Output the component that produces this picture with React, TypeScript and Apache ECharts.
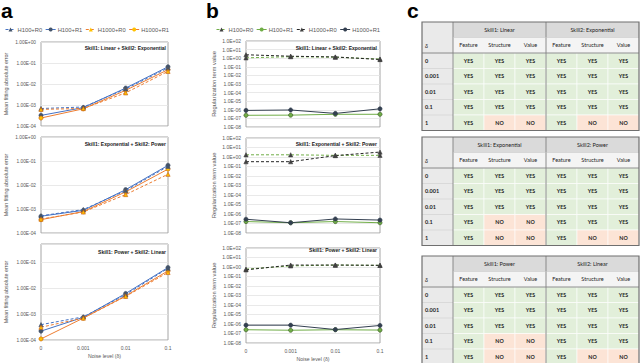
import React, { useEffect, useRef } from 'react';
import * as echarts from 'echarts';

// ---------- data ----------
const noiseLevels = ['0', '0.001', '0.01', '0.1'];
const seriesNames = ['H100+R0', 'H100+R1', 'H1000+R0', 'H1000+R1'];
const chartTitles = [
  'Skill1: Linear + Skill2: Exponential',
  'Skill1: Exponential + Skill2: Power',
  'Skill1: Power + Skill2: Linear',
];

// panel a: mean fitting absolute error (order: H100+R0, H100+R1, H1000+R0, H1000+R1)
const errLinearExp = [
  [6.8e-4, 8.0e-4, 5.8e-3, 5.8e-2],
  [3.2e-4, 7.5e-4, 6.4e-3, 6.6e-2],
  [6.2e-4, 6.8e-4, 3.8e-3, 4.0e-2],
  [2.4e-4, 6.6e-4, 5.0e-3, 4.8e-2],
];
const errExpPower = [
  [5.2e-4, 9.5e-4, 5.8e-3, 6.0e-2],
  [5.0e-4, 8.8e-4, 6.4e-3, 6.6e-2],
  [3.8e-4, 7.5e-4, 4.0e-3, 2.8e-2],
  [3.6e-4, 7.8e-4, 5.2e-3, 4.6e-2],
];
const errPowerLinear = [
  [3.9e-4, 7.8e-4, 5.6e-3, 5.8e-2],
  [2.2e-4, 7.5e-4, 6.2e-3, 6.2e-2],
  [3.1e-4, 7.0e-4, 4.8e-3, 4.0e-2],
  [1.1e-4, 7.0e-4, 5.0e-3, 4.6e-2],
];

// panel b: regularization term value
const regLinearExp = [
  [1.1, 1.5, 1.3, 0.8],
  [2.3e-7, 2.4e-7, 3.0e-7, 3.0e-7],
  [2.5, 1.7, 1.4, 0.7],
  [8.5e-7, 9.5e-7, 3.8e-7, 1.3e-6],
];
const regExpPower = [
  [1.7, 1.7, 1.5, 1.5],
  [1.6e-7, 1.2e-7, 1.6e-7, 1.2e-7],
  [0.32, 0.32, 1.4, 3.3],
  [2.8e-7, 1.2e-7, 3.0e-7, 2.3e-7],
];
const regPowerLinear = [
  [0.6, 1.3, 1.6, 1.5],
  [2.5e-7, 2.2e-7, 2.5e-7, 2.3e-7],
  [0.5, 1.6, 1.6, 1.5],
  [7.5e-7, 7.5e-7, 2.6e-7, 7.0e-7],
];

// panel c: tables
const deltaLevels = ['0', '0.001', '0.01', '0.1', '1'];
const subColumns = ['Feature', 'Structure', 'Value'];
const tableSkills = [
  ['Skill1: Linear', 'Skill2: Exponential'],
  ['Skill1: Exponential', 'Skill2: Power'],
  ['Skill1: Power', 'Skill2: Linear'],
];
const tableLinearExp = [
  ['YES', 'YES', 'YES', 'YES', 'YES', 'YES'],
  ['YES', 'YES', 'YES', 'YES', 'YES', 'YES'],
  ['YES', 'YES', 'YES', 'YES', 'YES', 'YES'],
  ['YES', 'YES', 'YES', 'YES', 'YES', 'YES'],
  ['YES', 'NO', 'NO', 'YES', 'NO', 'NO'],
];
const tableExpPower = [
  ['YES', 'YES', 'YES', 'YES', 'YES', 'YES'],
  ['YES', 'YES', 'YES', 'YES', 'YES', 'YES'],
  ['YES', 'YES', 'YES', 'YES', 'YES', 'YES'],
  ['YES', 'NO', 'NO', 'YES', 'YES', 'YES'],
  ['YES', 'NO', 'NO', 'YES', 'NO', 'NO'],
];
const tablePowerLinear = [
  ['YES', 'YES', 'YES', 'YES', 'YES', 'YES'],
  ['YES', 'YES', 'YES', 'YES', 'YES', 'YES'],
  ['YES', 'YES', 'YES', 'YES', 'YES', 'YES'],
  ['YES', 'NO', 'NO', 'YES', 'YES', 'YES'],
  ['YES', 'NO', 'NO', 'YES', 'NO', 'NO'],
];

// ---------- styling ----------
const FONT = 'Liberation Sans';
const TFONT = 'Lato';
const BLUE = '#4472C4';
const ORANGE = '#ED7D31';
const GREEN = '#70AD47';
const DARK = '#333F50';
const BLACK = '#262626';
const LABEL = '#595959';

const expFormatter = (digits: number) => (v: number) => {
  const l = Math.log10(v);
  const e = Math.round(l);
  if (Math.abs(l - e) > 0.01) return '';
  return (1).toFixed(digits) + 'E' + (e < 0 ? '-' : '+') + String(Math.abs(e)).padStart(2, '0');
};

function buildOption() {
  const gridsA = [
    { left: 41, top: 42, width: 127, height: 84 },
    { left: 41, top: 137, width: 127, height: 96 },
    { left: 41, top: 244, width: 127, height: 96 },
  ];
  const gridsB = [
    { left: 246, top: 41, width: 134, height: 86 },
    { left: 246, top: 138, width: 134, height: 95 },
    { left: 246, top: 248, width: 134, height: 95 },
  ];
  const grids = [...gridsA, ...gridsB].map((g) => ({
    ...g,
    show: true,
    borderColor: '#A6A6A6',
    borderWidth: 1,
    backgroundColor: 'transparent',
    outerBoundsMode: 'none',
    containLabel: false,
  }));

  const xAxes = grids.map((_, i) => {
    const last = i === 2 || i === 5;
    return {
      type: 'category',
      gridIndex: i,
      data: noiseLevels,
      boundaryGap: false,
      axisLine: { show: false },
      axisTick: { show: false },
      axisLabel: { show: last, fontSize: 5, color: LABEL, margin: 5, fontFamily: FONT },
      splitLine: { show: false },
      name: last ? 'Noise level (δ)' : '',
      nameLocation: 'middle',
      nameGap: 13,
      nameTextStyle: { fontSize: 5.2, color: LABEL, fontFamily: FONT },
    };
  });

  const yAxes = grids.map((_, i) => {
    const isA = i < 3;
    return {
      type: 'log',
      logBase: 10,
      gridIndex: i,
      min: isA ? 1e-4 : 1e-8,
      max: isA ? (i === 2 ? 0.5 : 1) : 99.9,
      splitNumber: isA ? 5 : 10,
      axisLine: { show: false },
      axisTick: { show: false },
      axisLabel: {
        fontSize: isA ? 4.8 : 5,
        color: LABEL,
        margin: 5,
        fontFamily: FONT,
        formatter: expFormatter(isA ? 2 : 1),
      },
      splitLine: { show: true, lineStyle: { color: '#E3E3E3', width: 0.8 } },
      name: isA ? 'Mean fitting absolute error' : 'Regularization term value',
      nameLocation: 'middle',
      nameGap: isA ? 33 : 29,
      nameTextStyle: { fontSize: isA ? 5.4 : 5.8, color: LABEL, fontFamily: FONT },
    };
  });

  const styleA = [
    { color: BLUE, dashed: true, symbol: 'triangle', fill: '#44546A', border: '#44546A' },
    { color: BLUE, dashed: false, symbol: 'circle', fill: '#44546A', border: '#44546A' },
    { color: ORANGE, dashed: true, symbol: 'triangle', fill: '#FFC000', border: '#C55A11' },
    { color: ORANGE, dashed: false, symbol: 'circle', fill: '#FFC000', border: '#C55A11' },
  ];
  const styleB = [
    { color: GREEN, dashed: true, symbol: 'triangle', fill: '#404040', border: '#404040' },
    { color: GREEN, dashed: false, symbol: 'circle', fill: GREEN, border: '#385723' },
    { color: BLACK, dashed: true, symbol: 'triangle', fill: '#404040', border: '#404040' },
    { color: DARK, dashed: false, symbol: 'circle', fill: DARK, border: DARK },
  ];

  const series: any[] = [];
  const addSeries = (data: number[][], gi: number, styles: any[], prefix: string) => {
    data.forEach((vals, k) => {
      const s = styles[k];
      series.push({
        type: 'line',
        name: prefix + seriesNames[k],
        data: vals,
        xAxisIndex: gi,
        yAxisIndex: gi,
        symbol: s.symbol,
        symbolSize: 4.2,
        showSymbol: true,
        lineStyle: { color: s.color, width: 1, type: s.dashed ? [3, 2] : 'solid' },
        itemStyle: { color: s.fill, borderColor: s.border, borderWidth: 0.6 },
        emphasis: { disabled: true },
        z: s.dashed ? 3 : 2,
      });
    });
  };
  addSeries(errLinearExp, 0, styleA, '');
  addSeries(errExpPower, 1, styleA, '');
  addSeries(errPowerLinear, 2, styleA, '');
  addSeries(regLinearExp, 3, styleB, 'b:');
  addSeries(regExpPower, 4, styleB, 'b:');
  addSeries(regPowerLinear, 5, styleB, 'b:');

  const legendCommon = {
    top: 26.5,
    itemWidth: 10,
    itemHeight: 5,
    itemGap: 3,
    padding: 0,
    selectedMode: false,
    itemStyle: { borderWidth: 0 },
    lineStyle: { width: 1 },
    textStyle: { fontSize: 5.8, color: LABEL, fontFamily: FONT, padding: [0, 0, 0, -3] },
  };
  const legends = [
    { ...legendCommon, left: 5, data: seriesNames },
    {
      ...legendCommon,
      left: 216,
      data: seriesNames.map((n) => 'b:' + n),
      formatter: (n: string) => n.slice(2),
    },
  ];

  // ---------- graphics: panel letters, in-plot titles, tables ----------
  const graphic: any[] = [];
  const txt = (text: string, x: number, y: number, o: any = {}) =>
    graphic.push({
      type: 'text',
      x,
      y,
      silent: true,
      z: 100,
      style: {
        text,
        fill: o.fill || '#000',
        fontSize: o.fontSize || 6,
        fontWeight: o.fontWeight || 'normal',
        fontStyle: o.fontStyle || 'normal',
        fontFamily: o.fontFamily || FONT,
        textAlign: o.align || 'left',
        textVerticalAlign: o.valign || 'middle',
        align: o.align || 'left',
        verticalAlign: o.valign || 'middle',
      },
    });

  txt('a', 1, 0, { fontSize: 21, fontWeight: 'bold', valign: 'top' });
  txt('b', 206, 0, { fontSize: 21, fontWeight: 'bold', valign: 'top' });
  txt('c', 407, 0, { fontSize: 21, fontWeight: 'bold', valign: 'top' });

  const titleYA = [48, 144, 252];
  const titleYB = [48, 144, 250];
  chartTitles.forEach((t, i) => {
    txt(t, 166, titleYA[i], { fontSize: 5, fontWeight: 'bold', align: 'right', fill: '#1a1a1a' });
    txt(t, 377, titleYB[i], { fontSize: 5, fontWeight: 'bold', align: 'right', fill: '#1a1a1a' });
  });

  const tables = [tableLinearExp, tableExpPower, tablePowerLinear];
  const tableTops = [22, 137, 256];
  const X0 = 422;
  const DW = 31;
  const CW = 31;
  const RH = 15.5;
  const rect = (x: number, y: number, w: number, h: number, style: any) =>
    graphic.push({ type: 'rect', silent: true, z: 50, shape: { x, y, width: w, height: h }, style });
  const line = (x1: number, y1: number, x2: number, y2: number, stroke: string, lw: number) =>
    graphic.push({ type: 'line', silent: true, z: 60, shape: { x1, y1, x2, y2 }, style: { stroke, lineWidth: lw } });

  tables.forEach((tab, t) => {
    const top = tableTops[t];
    const W = DW + CW * 6;
    rect(X0, top, DW, RH * 7, { fill: '#EAEAEA' });
    for (let g = 0; g < 2; g++) {
      rect(X0 + DW + g * 3 * CW, top, 3 * CW, RH, { fill: '#DADADA' });
      txt(tableSkills[t][g], X0 + DW + g * 3 * CW + 1.5 * CW, top + RH / 2, {
        fontSize: 5.5, fontFamily: TFONT, align: 'center', fill: '#222',
      });
    }
    for (let c = 0; c < 6; c++) {
      rect(X0 + DW + c * CW, top + RH, CW, RH, { fill: '#F4F4F4' });
      txt(subColumns[c % 3], X0 + DW + c * CW + CW / 2, top + RH * 1.5, {
        fontSize: 5.5, fontFamily: TFONT, align: 'center', fill: '#222',
      });
    }
    txt('δ', X0 + 3, top + RH * 1.5, { fontSize: 5.8, fontFamily: TFONT, fontStyle: 'italic', fill: '#222' });
    tab.forEach((row, r) => {
      const y = top + RH * (2 + r);
      txt(deltaLevels[r], X0 + 3, y + RH / 2, { fontSize: 5.5, fontFamily: TFONT, fontWeight: 'bold', fill: '#222' });
      if (r > 0) line(X0, y, X0 + DW, y, '#C8C8C8', 0.5);
      row.forEach((cell, c) => {
        const x = X0 + DW + c * CW;
        rect(x, y, CW, RH, {
          fill: cell === 'YES' ? '#E2EFDA' : '#FCE4D6',
          stroke: '#FFFFFF',
          lineWidth: 0.6,
        });
        txt(cell, x + CW / 2, y + RH / 2, {
          fontSize: 5.3, fontFamily: TFONT, fontWeight: 'bold', align: 'center', fill: '#222',
        });
      });
    });
    line(X0 + DW, top, X0 + DW, top + RH * 7, '#7F7F7F', 0.9);
    line(X0 + DW + 3 * CW, top, X0 + DW + 3 * CW, top + RH * 7, '#7F7F7F', 0.9);
    line(X0 + DW, top + RH, X0 + W, top + RH, '#BFBFBF', 0.5);
    line(X0, top + RH * 2, X0 + W, top + RH * 2, '#7F7F7F', 0.9);
    graphic.push({
      type: 'rect',
      silent: true,
      z: 70,
      shape: { x: X0, y: top, width: W, height: RH * 7 },
      style: { fill: 'none', stroke: '#6F6F6F', lineWidth: 1.2 },
    });
  });

  return {
    animation: false,
    backgroundColor: '#ffffff',
    textStyle: { fontFamily: FONT },
    grid: grids,
    xAxis: xAxes,
    yAxis: yAxes,
    legend: legends,
    series,
    graphic,
  };
}

export default function App() {
  const ref = useRef<HTMLDivElement>(null);
  useEffect(() => {
    if (!ref.current) return;
    const chart = echarts.init(ref.current, undefined, { renderer: 'svg' });
    chart.setOption(buildOption() as any);
    return () => chart.dispose();
  }, []);
  return (
    <div
      ref={ref}
      style={{ position: 'absolute', left: 0, top: 0, width: 640, height: 363, background: '#fff' }}
    />
  );
}
